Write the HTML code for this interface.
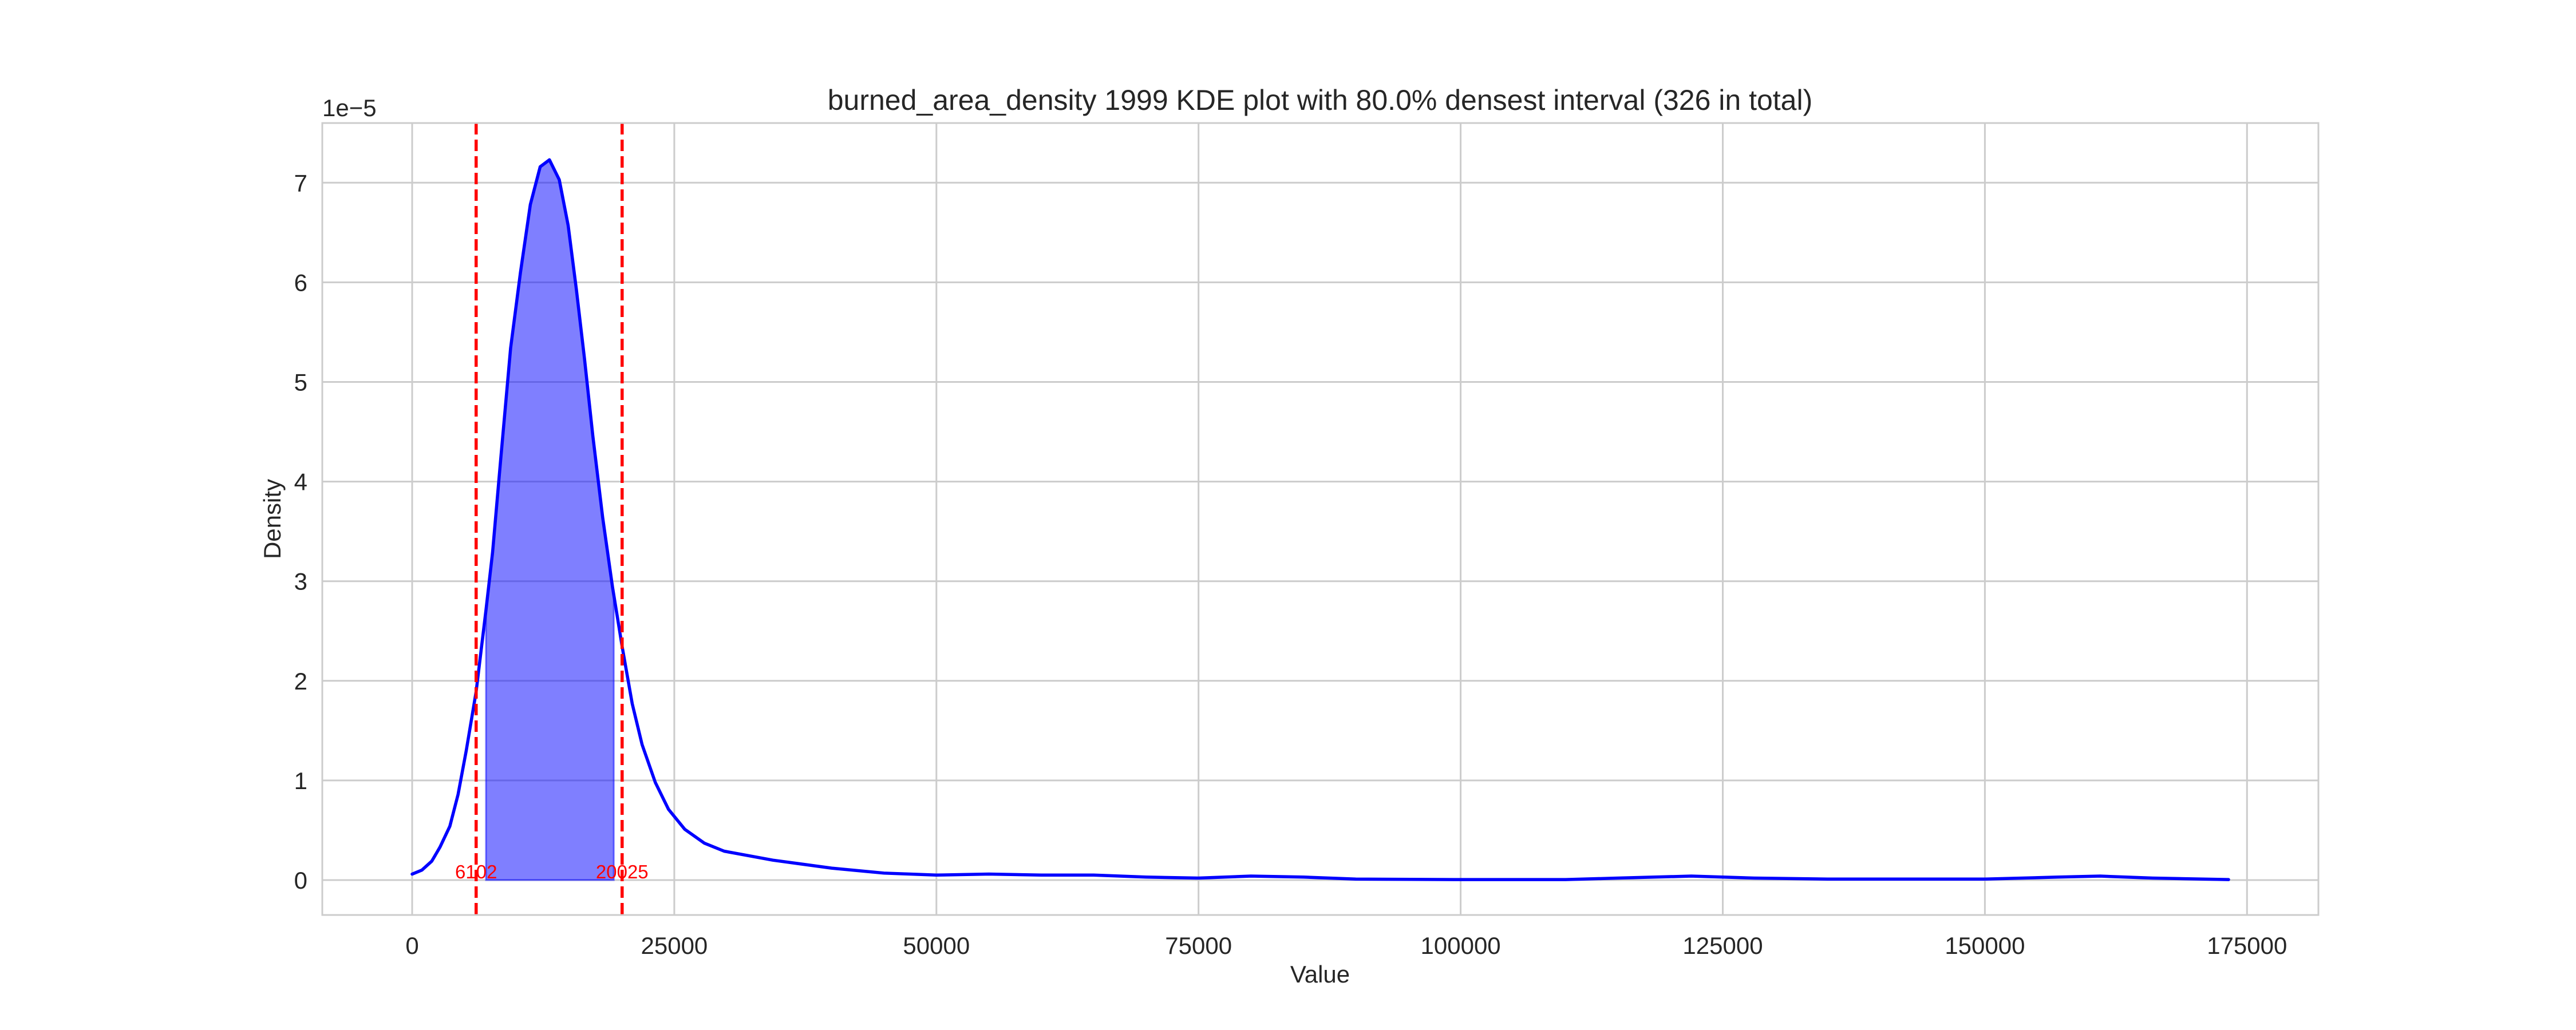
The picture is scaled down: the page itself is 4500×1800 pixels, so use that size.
<!DOCTYPE html>
<html><head><meta charset="utf-8"><style>
html,body{margin:0;padding:0;background:#fff;}
svg{display:block;font-family:"Liberation Sans",sans-serif;}
</style></head><body>
<svg id="chart" width="4500" height="1800" viewBox="0 0 4500 1800" xmlns="http://www.w3.org/2000/svg">
<rect x="0" y="0" width="4500" height="1800" fill="#fff"/>
<g id="grid"></g>
<g id="fill"></g>
<g id="line"></g>
<g id="vlines"></g>
<rect x="563" y="215" width="3487" height="1384" fill="none" stroke="#cccccc" stroke-width="3"/>
<g id="ticks"></g>
<text x="2306" y="192" font-size="50" text-anchor="middle" fill="#262626">burned_area_density 1999 KDE plot with 80.0% densest interval (326 in total)</text>
<text x="2306" y="1717" font-size="42" text-anchor="middle" fill="#262626">Value</text>
<text transform="translate(490,907) rotate(-90)" font-size="42" text-anchor="middle" fill="#262626">Density</text>
<text x="563" y="203" font-size="42" fill="#262626">1e−5</text>
</svg>
<script>
const xTicks=[0,25000,50000,75000,100000,125000,150000,175000];
const yTicks=[0,1,2,3,4,5,6,7];
const curveX=[0,928,1872,2650,3595,4380,5160,6100,7040,7670,8450,9390,10330,11270,12210,13090,14030,14880,15660,16440,17230,18170,19110,20050,20990,21930,23190,24450,26000,27880,29760,34400,40000,45000,50000,55000,60000,65000,70000,75000,80000,85000,90000,100000,110000,115000,122000,128000,135000,150000,157000,161000,166000,173240];
const curveY=[0.06,0.10,0.19,0.33,0.54,0.86,1.30,1.89,2.71,3.29,4.23,5.34,6.10,6.78,7.16,7.23,7.03,6.57,5.93,5.23,4.46,3.64,2.94,2.33,1.77,1.36,0.98,0.71,0.51,0.37,0.29,0.20,0.12,0.07,0.05,0.06,0.05,0.05,0.03,0.02,0.04,0.03,0.01,0.005,0.005,0.02,0.04,0.02,0.01,0.01,0.03,0.04,0.02,0.005];
const intervalBounds=[6102,20025];
const fillRange=[7040,19230];
const boundLabels=["6102","20025"];

const NS="http://www.w3.org/2000/svg";
const X=v=>720+v*(457.9/25000);
const Y=v=>1538-v*174.1;
function mk(tag,attrs,parent){const e=document.createElementNS(NS,tag);for(const k in attrs)e.setAttribute(k,attrs[k]);parent.appendChild(e);return e;}
const grid=document.getElementById('grid'),ticks=document.getElementById('ticks');
xTicks.forEach(t=>{
  const l=mk('line',{x1:X(t),x2:X(t),y1:215,y2:1599,stroke:'#cccccc','stroke-width':3},grid);
  
  
  const tx=mk('text',{x:X(t),y:1667,'font-size':42,'text-anchor':'middle',fill:'#262626'},ticks);
  tx.textContent=String(t);
  
  
});
yTicks.forEach(t=>{
  const l=mk('line',{x1:563,x2:4050,y1:Y(t),y2:Y(t),stroke:'#cccccc','stroke-width':3},grid);
  
  
  const tx=mk('text',{x:537,y:Y(t)+15,'font-size':42,'text-anchor':'end',fill:'#262626'},ticks);
  tx.textContent=String(t);
  
  
});
function interp(v){for(let i=1;i<curveX.length;i++){if(curveX[i]>=v){const f=(v-curveX[i-1])/(curveX[i]-curveX[i-1]);return curveY[i-1]+f*(curveY[i]-curveY[i-1]);}}return curveY[curveY.length-1];}
let fp=[[fillRange[0],0],[fillRange[0],interp(fillRange[0])]];
curveX.forEach((x,i)=>{if(x>fillRange[0]&&x<fillRange[1])fp.push([x,curveY[i]]);});
fp.push([fillRange[1],interp(fillRange[1])],[fillRange[1],0]);
const poly=mk('polygon',{points:fp.map(p=>X(p[0])+','+Y(p[1])).join(' '),fill:'#0000ff','fill-opacity':0.5,stroke:'#0000ff','stroke-opacity':0.5,'stroke-width':3},document.getElementById('fill'));


const pl=mk('polyline',{points:curveX.map((x,i)=>X(x)+','+Y(curveY[i])).join(' '),fill:'none',stroke:'#0000ff','stroke-width':5.5,'stroke-linejoin':'round','stroke-linecap':'round'},document.getElementById('line'));


const vg=document.getElementById('vlines');
intervalBounds.forEach((b,i)=>{
  const l=mk('line',{x1:X(b),x2:X(b),y1:215,y2:1599,stroke:'#ff0000','stroke-width':5.5,'stroke-dasharray':'20 9'},vg);
  
  
  const t=mk('text',{x:X(b),y:1535,'font-size':33,'text-anchor':'middle',fill:'#ff0000'},vg);
  t.textContent=boundLabels[i];
  
  
});
</script>
</body></html>
